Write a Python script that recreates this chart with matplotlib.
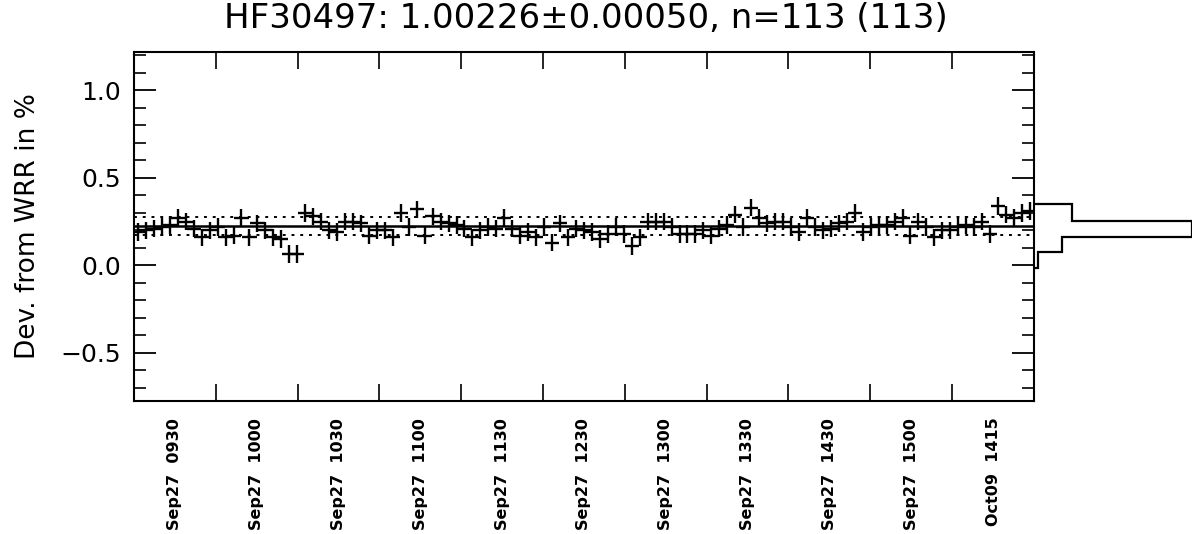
import numpy as np
import matplotlib
matplotlib.use("Agg")
import matplotlib.pyplot as plt

# deviation from WRR (%) for the 113 comparisons, in time order
dev = [
    0.19, 0.20, 0.21, 0.22, 0.23, 0.27, 0.25, 0.21, 0.16, 0.20,
    0.22, 0.16, 0.17, 0.27, 0.16, 0.24, 0.20, 0.16, 0.15, 0.065, 0.065,
    0.30, 0.28, 0.25, 0.20, 0.19, 0.25, 0.25, 0.24, 0.17, 0.20,
    0.20, 0.16, 0.30, 0.22, 0.32, 0.17, 0.28, 0.25, 0.24, 0.23,
    0.21, 0.16, 0.20, 0.22, 0.21, 0.27, 0.21, 0.17, 0.19, 0.16,
    0.22, 0.13, 0.24, 0.16, 0.21, 0.20, 0.19, 0.15, 0.18, 0.22,
    0.18, 0.11, 0.16, 0.25, 0.25, 0.25, 0.22, 0.18, 0.18, 0.18, 0.20,
    0.17, 0.21, 0.23, 0.29, 0.22, 0.33, 0.27, 0.24, 0.25, 0.25,
    0.22, 0.19, 0.27, 0.22, 0.20, 0.21, 0.24, 0.25, 0.30, 0.19,
    0.22, 0.23, 0.23, 0.25, 0.27, 0.17, 0.25, 0.22, 0.16, 0.20, 0.20,
    0.22, 0.23, 0.22, 0.25, 0.18, 0.34, 0.29, 0.27, 0.30, 0.31,
]
dev_err = 0.05          # half length of the vertical bar
step_err = 0.9          # half width of the horizontal bar (in samples)

time_labels = ["Sep27 0930", "Sep27 1000", "Sep27 1030", "Sep27 1100",
               "Sep27 1130", "Sep27 1230", "Sep27 1300", "Sep27 1330",
               "Sep27 1430", "Sep27 1500", "Oct09 1415"]

mean_dev = 0.226
sd_dev = 0.050
hist_edges = [-0.016, 0.079, 0.165, 0.256, 0.35]

title = "HF30497: 1.00226\u00b10.00050, n=113 (113)"

ylo, yhi = -0.775, 1.22

fig = plt.figure(figsize=(11.95, 5.34), dpi=100)
ax = fig.add_axes([0.1121, 0.2491, 0.7531, 0.6536])
axh = fig.add_axes([0.8653, 0.2491, 0.1322, 0.6536])

n = len(dev)
x = np.arange(n)
ax.errorbar(x, dev, xerr=step_err, yerr=dev_err, fmt="none",
            ecolor="black", elinewidth=1.7, capsize=0)

ax.axhline(mean_dev, color="black", lw=1.8)
ax.axhline(mean_dev + sd_dev, color="black", lw=1.4, ls=(0, (1.5, 3)))
ax.axhline(mean_dev - sd_dev, color="black", lw=1.4, ls=(0, (1.5, 3)))

ax.set_xlim(-0.5, n - 0.5)
ax.set_ylim(ylo, yhi)

# group boundaries (ticks) and group centres (labels)
ng = len(time_labels)
edges = np.linspace(-0.5, n - 0.5, ng + 1)
ax.set_xticks(edges[1:-1], minor=True)
ax.set_xticks((edges[:-1] + edges[1:]) / 2)
ax.set_xticklabels([s.replace(" ", "  ") for s in time_labels],
                   rotation=90, fontsize=11.5, fontweight="bold")
ax.tick_params(axis="x", which="major", length=0, pad=12)
ax.tick_params(axis="x", which="minor", direction="in", length=12,
               width=1.2, top=True, bottom=True)

ax.set_yticks([-0.5, 0.0, 0.5, 1.0])
ax.set_yticklabels(["\u22120.5", "0.0", "0.5", "1.0"])
ax.set_yticks(np.arange(-0.7, 1.25, 0.1), minor=True)
ax.tick_params(axis="y", which="major", direction="in", length=16,
               width=1.3, left=True, right=True, labelsize=18, pad=9)
ax.tick_params(axis="y", which="minor", direction="in", length=8.5,
               width=1.2, left=True, right=True)
ax.set_ylabel("Dev. from WRR in %", fontsize=19, labelpad=14)

for s in ax.spines.values():
    s.set_linewidth(1.5)

counts, _, _ = axh.hist(dev, bins=hist_edges, orientation="horizontal",
                        histtype="step", color="black", lw=1.6)
axh.set_xlim(0, counts.max() * 1.003)
axh.set_ylim(ylo, yhi)
axh.axis("off")

fig.text(0.49, 0.966, title, ha="center", va="center", fontsize=24.5)

fig.savefig("out.png", dpi=100)
